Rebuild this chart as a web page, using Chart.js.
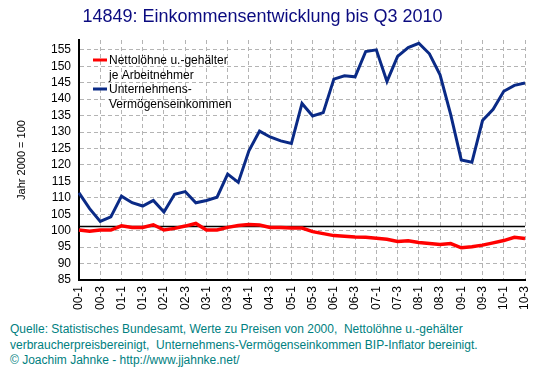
<!DOCTYPE html>
<html>
<head>
<meta charset="utf-8">
<script src="https://cdn.jsdelivr.net/npm/chart.js@4.4.1/dist/chart.umd.min.js"></script>
<style>
  html, body { margin: 0; padding: 0; background: #fff; }
  #wrap { position: relative; width: 553px; height: 376px; font-family: "Liberation Sans", Arial, sans-serif; }
  #chart { position: absolute; left: 0; top: 0; }
  #quelle { position: absolute; left: 10px; top: 322px; font-size: 12px; line-height: 15.5px; color: #008080; white-space: nowrap; }
</style>
</head>
<body>
<div id="wrap">
  <canvas id="chart" width="553" height="320"></canvas>
  <div id="quelle">
    Quelle: Statistisches Bundesamt, Werte zu Preisen von 2000,&nbsp; Nettolöhne u.-gehälter<br>
    verbraucherpreisbereinigt,&nbsp; Unternehmens-Vermögenseinkommen BIP-Inflator bereinigt.<br>
    © Joachim Jahnke - http://www.jjahnke.net/
  </div>
</div>
<script>
// ===== Daten =====
const quarters = [
  '00-1','00-2','00-3','00-4','01-1','01-2','01-3','01-4','02-1','02-2','02-3','02-4',
  '03-1','03-2','03-3','03-4','04-1','04-2','04-3','04-4','05-1','05-2','05-3','05-4',
  '06-1','06-2','06-3','06-4','07-1','07-2','07-3','07-4','08-1','08-2','08-3','08-4',
  '09-1','09-2','09-3','09-4','10-1','10-2','10-3'
];

// Nettolöhne u.-gehälter je Arbeitnehmer
const nettoloehne = [
  100.2, 99.8, 100.2, 100.2, 101.5, 101.0, 101.0, 101.8, 100.2, 100.7, 101.4, 102.2,
  100.2, 100.2, 101.0, 101.6, 101.9, 101.7, 101.0, 101.0, 100.8, 100.8, 99.7, 99.1,
  98.5, 98.3, 98.1, 98.0, 97.7, 97.4, 96.7, 96.9, 96.4, 96.1, 95.8, 96.1,
  94.8, 95.1, 95.6, 96.3, 97.0, 98.0, 97.6
];

// Unternehmens-Vermögenseinkommen
const unternehmen = [
  111.5, 106.7, 102.8, 104.2, 110.5, 108.5, 107.5, 109.2, 105.7, 111.1, 111.9, 108.5,
  109.2, 110.2, 117.2, 114.7, 124.3, 130.3, 128.5, 127.3, 126.5, 138.7, 134.9, 135.9,
  146.1, 147.1, 146.8, 154.5, 155.0, 145.4, 153.0, 155.7, 157.0, 153.8, 147.4, 135.4,
  121.5, 120.8, 133.5, 136.9, 142.4, 144.2, 144.9
];

const refLevel = 101.3;
const refLine = quarters.map(() => refLevel);

const yTicks = [85, 90, 95, 100, 105, 110, 115, 120, 125, 130, 135, 140, 145, 150, 155];

const seriesLabels = [
  ['Nettolöhne u.-gehälter', 'je Arbeitnehmer'],
  ['Unternehmens-', 'Vermögenseinkommen']
];
const seriesColors = ['#ff0000', '#0a2a86'];

// Legende im Plotbereich (zweizeilige Beschriftungen)
const innerLegend = {
    id: 'innerLegend',
    afterDraw(chart) {
        const c = chart.ctx;
        const x0 = chart.chartArea.left + 14;
        let y = chart.chartArea.top + 21;
        c.save();
        c.font = '12px "Liberation Sans", Arial, sans-serif';
        c.textBaseline = 'middle';
        seriesLabels.forEach((lines, i) => {
            c.strokeStyle = seriesColors[i];
            c.lineWidth = 3;
            c.beginPath();
            c.moveTo(x0, y - 1);
            c.lineTo(x0 + 14, y - 1);
            c.stroke();
            c.fillStyle = '#000';
            lines.forEach((t, k) => c.fillText(t, x0 + 16, y + k * 15));
            y += 29;
        });
        c.restore();
    }
};

const gridGray = '#b4b4b4';

new Chart(document.getElementById('chart'), {
    type: 'line',
    data: {
        labels: quarters,
        datasets: [
            {
                label: seriesLabels[0].join(' '),
                data: nettoloehne,
                borderColor: seriesColors[0],
                borderWidth: 3.5,
                pointRadius: 0,
                tension: 0,
                order: 1,
            },
            {
                label: seriesLabels[1].join(' '),
                data: unternehmen,
                borderColor: seriesColors[1],
                borderWidth: 3,
                pointRadius: 0,
                tension: 0,
                order: 0,
            },
            {
                label: 'ref',
                data: refLine,
                borderColor: '#000',
                borderWidth: 1.5,
                pointRadius: 0,
                order: 2,
            }
        ]
    },
    options: {
        responsive: false,
        animation: false,
        layout: { padding: { left: 0, right: 28, top: 0, bottom: 0 } },
        scales: {
            x: {
                offset: false,
                grid: {
                    drawTicks: false,
                    color: ctx => (ctx.index % 2 === 0 && ctx.index > 0) ? gridGray : 'transparent',
                },
                border: { display: true, color: '#000', width: 2, dash: [4, 3] },
                ticks: {
                    autoSkip: false,
                    maxRotation: 90,
                    minRotation: 90,
                    padding: 6,
                    color: '#000',
                    font: { family: '"Liberation Sans", Arial, sans-serif', size: 12 },
                    callback: function (v, i) { return i % 2 === 0 ? quarters[i] : ''; },
                },
                afterFit: s => { s.height = 40; },
            },
            y: {
                min: 85,
                max: 158,
                afterBuildTicks: s => { s.ticks = yTicks.map(v => ({ value: v })); },
                grid: {
                    drawTicks: false,
                    color: ctx => ctx.tick && ctx.tick.value === 85 ? 'transparent' : gridGray,
                },
                border: { display: true, color: '#000', width: 2, dash: [4, 3] },
                ticks: {
                    autoSkip: false,
                    padding: 8,
                    color: '#000',
                    font: { family: '"Liberation Sans", Arial, sans-serif', size: 12 },
                },
                title: {
                    display: true,
                    text: 'Jahr 2000 = 100',
                    color: '#000',
                    font: { family: '"Liberation Sans", Arial, sans-serif', size: 11 },
                    padding: { top: 15, bottom: 0 },
                },
                afterFit: s => { s.width = 79; },
            }
        },
        plugins: {
            legend: { display: false },
            tooltip: { enabled: false },
            title: {
                display: true,
                text: '14849: Einkommensentwicklung bis Q3 2010',
                color: '#0b0b80',
                font: { family: '"Liberation Sans", Arial, sans-serif', size: 18, weight: 'normal' },
                padding: { top: 6, bottom: 12.4 },
            }
        }
    },
    plugins: [innerLegend]
});
</script>
</body>
</html>
